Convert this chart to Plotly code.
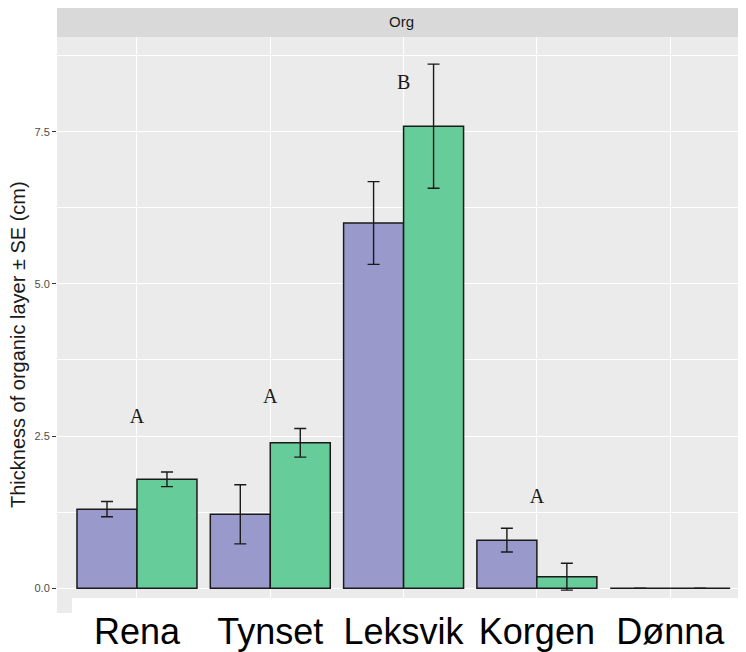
import plotly.graph_objects as go

# ---- data ----
sites = ["Rena", "Tynset", "Leksvik", "Korgen", "Dønna"]
group1_mean = [1.30, 1.215, 6.00, 0.79, 0.0]
group1_se = [0.125, 0.485, 0.68, 0.195, 0.0]
group2_mean = [1.79, 2.39, 7.59, 0.19, 0.0]
group2_se = [0.12, 0.235, 1.02, 0.22, 0.0]
letters = ["A", "A", "B", "A", ""]
letter_y = [2.79, 3.12, 8.29, 1.48, None]
y_ticks = [0, 2.5, 5.0, 7.5]
facet_label = "Org"
y_title = "Thickness of organic layer ± SE (cm)"

OFF = 8  # default page body margin
W, H = 746 - OFF, 652 - OFF
L, R, T, B = 57 - OFF, 0, 37 - OFF, 652 - 613
plot_h = H - T - B
plot_w = W - L - R

fig = go.Figure()
line_col = "#1a1a1a"
for means, ses, col in [(group1_mean, group1_se, "#9999CC"), (group2_mean, group2_se, "#66CC99")]:
    fig.add_trace(go.Bar(
        x=sites, y=means,
        marker=dict(color=col, line=dict(color=line_col, width=1.5)),
        error_y=dict(type="data", array=ses, visible=True, color=line_col, thickness=1.4, width=6),
        showlegend=False,
    ))

fig.add_trace(go.Scatter(
    x=sites, y=letter_y, text=letters, mode="text",
    textfont=dict(family="Liberation Serif, DejaVu Serif, serif", size=20, color="#1a1a1a"),
    showlegend=False, hoverinfo="skip",
))

fig.update_layout(
    width=W, height=H,
    margin=dict(l=L, r=R, t=T, b=B, autoexpand=False),
    paper_bgcolor="white", plot_bgcolor="#EBEBEB",
    barmode="group", bargap=0.1, bargroupgap=0,
    font=dict(family="Arial, Liberation Sans, sans-serif"),
)
fig.update_xaxes(
    automargin=False,
    type="category", categoryorder="array", categoryarray=sites,
    range=[-0.6, -0.6 + plot_w / 133.3],
    showgrid=True, gridcolor="white", gridwidth=1.3,
    ticks="", showline=False, zeroline=False,
    ticklabelstandoff=-6,
    tickfont=dict(size=36, color="black", family="Arial, Liberation Sans, sans-serif"),
)
fig.update_yaxes(
    automargin=False,
    range=[-0.406, 9.055],
    tickvals=y_ticks, tickformat=".1f",
    showgrid=True, gridcolor="white", gridwidth=1.3,
    minor=dict(dtick=1.25, tick0=0, showgrid=True, gridcolor="white", gridwidth=0.6),
    ticks="outside", ticklen=4, tickcolor="#333333", tickwidth=1,
    tickfont=dict(size=11, color="#4D4D4D"),
    zeroline=False, showline=False,
)

# facet strip
strip_h = 31 / plot_h
fig.add_shape(type="rect", xref="paper", yref="paper", x0=0, x1=1, y0=1, y1=1 + strip_h,
              fillcolor="#D9D9D9", line=dict(width=0), layer="below")
fig.add_annotation(text=facet_label, xref="paper", yref="paper", x=0.5, y=1 + strip_h / 2,
                   showarrow=False, font=dict(size=15, color="#1A1A1A"), yanchor="middle")

# white label area pasted over the panel bottom
fig.add_shape(type="rect", xref="paper", yref="paper",
              x0=15 / plot_w, x1=1.01, y0=-B / plot_h, y1=15 / plot_h,
              fillcolor="white", line=dict(width=0), layer="between")

# y axis title
fig.add_annotation(text=y_title, xref="paper", yref="paper", x=(18 - 57) / plot_w, y=(613 - 345) / plot_h,
                   textangle=-90, showarrow=False, xanchor="center", yanchor="middle",
                   font=dict(size=20, color="#1a1a1a"))

fig.write_html("out.html")
